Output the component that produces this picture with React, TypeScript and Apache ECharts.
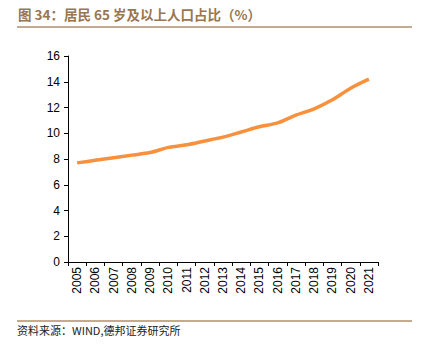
import React, { useEffect, useRef } from "react";
import * as echarts from "echarts";

const years = ["2005","2006","2007","2008","2009","2010","2011","2012","2013","2014","2015","2016","2017","2018","2019","2020","2021"];
const share = [7.7, 7.9, 8.1, 8.3, 8.5, 8.9, 9.1, 9.4, 9.7, 10.1, 10.5, 10.8, 11.4, 11.9, 12.6, 13.5, 14.2];
const yTicks = [0, 2, 4, 6, 8, 10, 12, 14, 16];

export default function App() {
  const ref = useRef<HTMLDivElement>(null);
  useEffect(() => {
    const chart = echarts.init(ref.current!, null, { renderer: "svg" });
    chart.setOption({
      animation: false,
      backgroundColor: "#fff",
      grid: { left: 68, right: 45, top: 56, bottom: 84 },
      xAxis: {
        type: "category",
        data: years,
        boundaryGap: true,
        axisLine: { lineStyle: { color: "#000", width: 1 } },
        axisTick: { show: true, alignWithLabel: false, length: 4, lineStyle: { color: "#000" } },
        axisLabel: { rotate: 90, color: "#000", fontSize: 12, fontFamily: "Liberation Sans", margin: 5, interval: 0 },
      },
      yAxis: {
        type: "value",
        min: yTicks[0],
        max: yTicks[yTicks.length - 1],
        interval: 2,
        axisLine: { show: true, lineStyle: { color: "#000", width: 1 } },
        axisTick: { show: true, length: 4, inside: false, lineStyle: { color: "#000" } },
        splitLine: { show: false },
        axisLabel: { color: "#000", fontSize: 12, fontFamily: "Liberation Sans", margin: 8 },
      },
      series: [
        {
          type: "line",
          data: share,
          smooth: 0.3,
          symbol: "none",
          lineStyle: { color: "#F7913D", width: 3.5 },
        },
      ],
      graphic: [
        {
          type: "text",
          left: 18,
          top: 7,
          style: {
            text: "图 34：居民 65 岁及以上人口占比（%）",
            fill: "#9A7650",
            font: "bold 13.5px 'Noto Sans CJK SC', sans-serif",
          },
        },
        {
          type: "line",
          shape: { x1: 17, y1: 27, x2: 412, y2: 27 },
          style: { stroke: "#B08F6A", lineWidth: 1.5 },
        },
        {
          type: "line",
          shape: { x1: 17, y1: 321, x2: 412, y2: 321 },
          style: { stroke: "#B08F6A", lineWidth: 1.5 },
        },
        {
          type: "text",
          left: 17,
          top: 324,
          style: {
            text: "资料来源：WIND,德邦证券研究所",
            fill: "#222",
            font: "11px 'Noto Sans CJK SC', sans-serif",
          },
        },
      ],
    });
    return () => chart.dispose();
  }, []);
  return <div ref={ref} style={{ width: 423, height: 346, position: "absolute", left: 0, top: 0 }} />;
}
